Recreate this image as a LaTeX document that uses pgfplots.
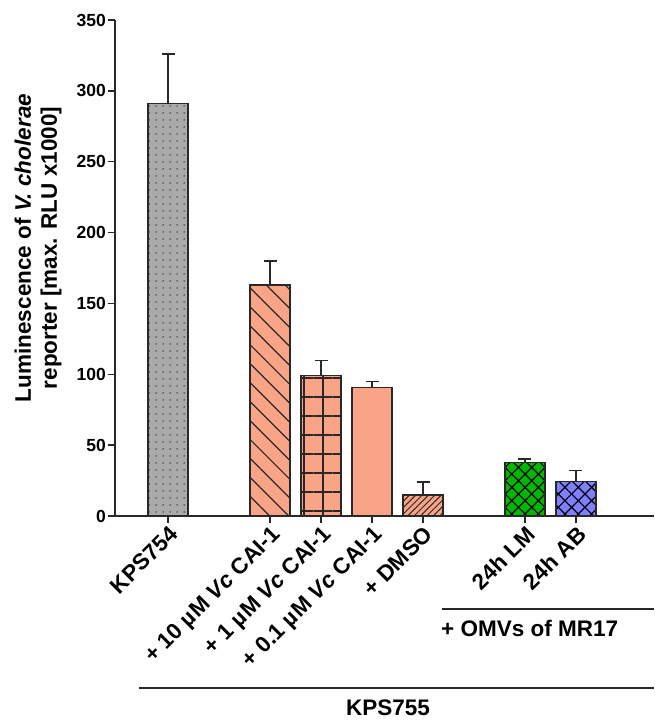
\documentclass[border=0pt]{standalone}
\usepackage{pgfplots}
\pgfplotsset{compat=1.18}
\usetikzlibrary{patterns.meta}
\usepackage{fontspec}
\setmainfont{Liberation Sans}
\definecolor{barGray}{RGB}{170,170,170}
\definecolor{salmon}{RGB}{250,164,135}
\definecolor{barGreen}{RGB}{0,184,0}
\definecolor{barBlue}{RGB}{128,128,255}
\definecolor{ink}{RGB}{40,40,40}
\pgfplotsset{mybar/.style={ybar, bar width=40pt, bar shift=0pt, draw=ink, line width=1.3pt}}
\begin{document}
\begin{tikzpicture}
\path[use as bounding box] (-115pt,-204pt) rectangle (539pt,516pt);
\begin{axis}[
  at={(0pt,0pt)}, anchor=south west,
  scale only axis, width=539pt, height=496pt,
  xmin=-1.04, xmax=9.53, ymin=0, ymax=350,
  axis x line*=bottom, axis y line*=left,
  axis line style={line width=1.3pt, draw=ink, -},
  ytick={0,50,...,350},
  xtick={0,2,3,4,5,7,8},
  xticklabels={KPS754,{+ 10 µM \textit{Vc} CAI-1},{+ 1 µM \textit{Vc} CAI-1},{+ 0.1 µM \textit{Vc} CAI-1},+ DMSO,24h LM,24h AB},
  tick align=outside, major tick length=7pt,
  tick style={line width=1.3pt, draw=ink},
  /pgf/number format/assume math mode=true,
  yticklabel style={font=\fontsize{17.5}{20}\selectfont\bfseries, inner sep=2pt},
  xticklabel style={font=\fontsize{22.5}{26}\selectfont\bfseries, rotate=45, anchor=north east, inner sep=1pt},
  clip=false,
]
\addplot[mybar, fill=barGray, postaction={pattern={Dots[distance=6.5pt, radius=0.8pt]}, pattern color=ink}] coordinates {(0,291)};
\addplot[mybar, fill=salmon, postaction={pattern={Lines[angle=-45, distance=13.4pt, line width=1.2pt]}, pattern color=ink}] coordinates {(2,163)};
\addplot[mybar, fill=salmon, postaction={pattern={Hatch[distance=19pt, line width=1.2pt]}, pattern color=ink}] coordinates {(3,99)};
\addplot[mybar, fill=salmon] coordinates {(4,90.5)};
\addplot[mybar, fill=salmon, postaction={pattern={Lines[angle=45, distance=4.5pt, line width=1pt]}, pattern color=ink}] coordinates {(5,14.8)};
\addplot[mybar, fill=barGreen, postaction={pattern={Hatch[angle=45, distance=9.4pt, line width=1.2pt]}, pattern color=black}] coordinates {(7,37.6)};
\addplot[mybar, fill=barBlue, postaction={pattern={Hatch[angle=45, distance=9.4pt, line width=1.2pt]}, pattern color=black}] coordinates {(8,24.2)};
\addplot[draw=none, mark=none, forget plot,
  error bars/.cd, y dir=plus, y explicit,
  error bar style={draw=ink, line width=1.2pt, solid},
  error mark options={rotate=90, mark size=6.5pt, line width=1.2pt, draw=ink}]
  coordinates {(0,291) +- (0,35) (2,163) +- (0,17) (3,99) +- (0,11) (4,90.5) +- (0,4.5) (5,14.8) +- (0,9.2) (7,37.6) +- (0,2.6) (8,24.2) +- (0,7.8)};
\end{axis}
\node[rotate=90, align=center, font=\fontsize{22.5}{26}\selectfont\bfseries] at (-77pt,268pt) {Luminescence of \textit{V. cholerae}\\reporter [max. RLU x1000]};
\draw[line width=1.5pt, ink] (327pt,-93pt) -- (539pt,-93pt);
\node[anchor=west, font=\fontsize{22.5}{26}\selectfont\bfseries, inner sep=0pt] at (326pt,-112pt) {+ OMVs of MR17};
\draw[line width=1.5pt, ink] (24pt,-172pt) -- (539pt,-172pt);
\node[font=\fontsize{22.5}{26}\selectfont\bfseries, inner sep=1pt] at (273pt,-192pt) {KPS755};
\end{tikzpicture}
\end{document}
